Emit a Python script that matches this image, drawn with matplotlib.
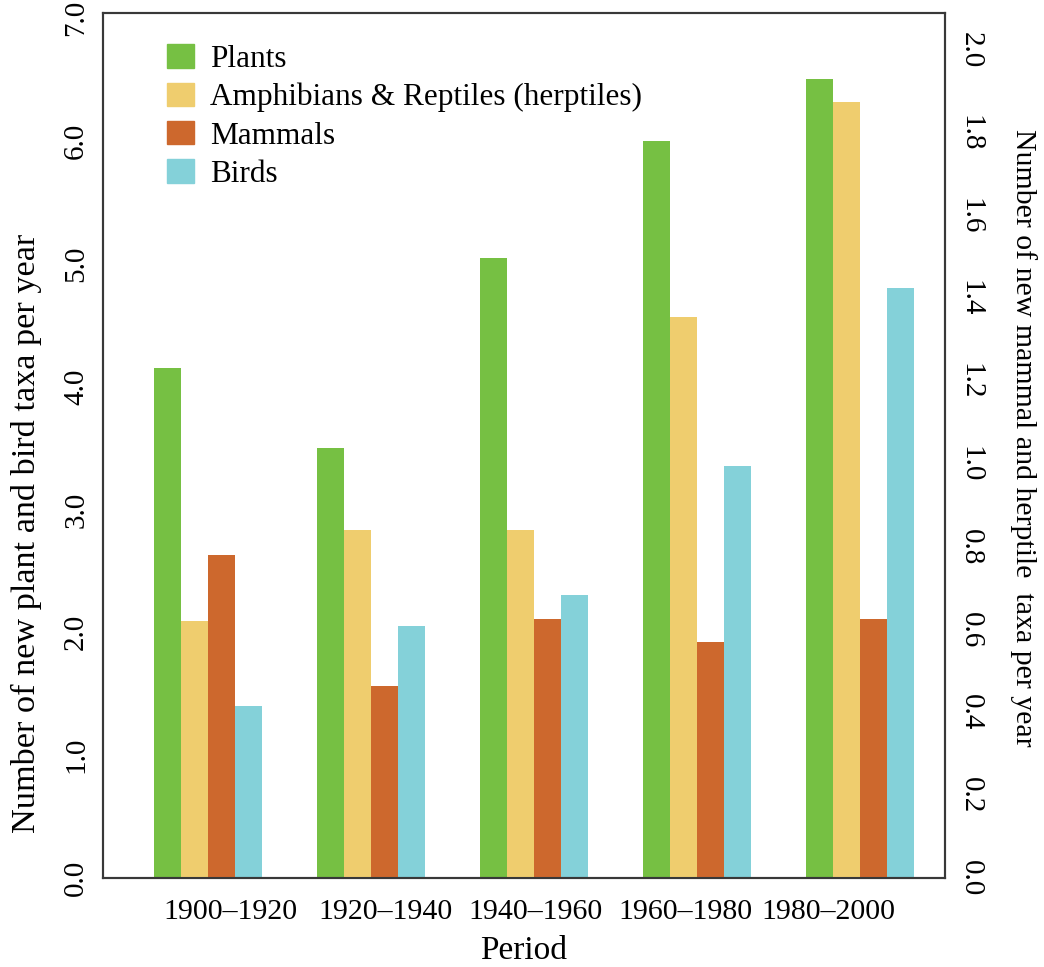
import numpy as np
import matplotlib
matplotlib.use('Agg')
import matplotlib.pyplot as plt
from matplotlib.patches import Patch

# new taxa described per year, by 20-year period
periods = ['1900–1920', '1920–1940', '1940–1960', '1960–1980', '1980–2000']
plants = [4.15, 3.5, 5.05, 6.0, 6.5]         # left axis
birds = [1.4, 2.05, 2.3, 3.35, 4.8]          # left axis
herptiles = [0.62, 0.84, 0.84, 1.355, 1.875]  # right axis
mammals = [0.78, 0.465, 0.625, 0.57, 0.625]    # right axis

left_ticks = [0.0, 1.0, 2.0, 3.0, 4.0, 5.0, 6.0, 7.0]
right_ticks = [0.0, 0.2, 0.4, 0.6, 0.8, 1.0, 1.2, 1.4, 1.6, 1.8, 2.0]

c_plants = '#76c043'
c_herp = '#efcd6e'
c_mammals = '#cd682d'
c_birds = '#84d1d9'

plt.rcParams['font.family'] = ['Liberation Serif', 'DejaVu Serif']

W, H = 1044, 967
fig = plt.figure(figsize=(W / 100, H / 100), dpi=100)
ax = fig.add_axes([103 / W, 89 / H, 842 / W, 865 / H])
ax2 = ax.twinx()

x = np.arange(len(periods))
w = 0.166

ax.bar(x - 1.5 * w, plants, w, color=c_plants, linewidth=0)
ax2.bar(x - 0.5 * w, herptiles, w, color=c_herp, linewidth=0)
ax2.bar(x + 0.5 * w, mammals, w, color=c_mammals, linewidth=0)
ax.bar(x + 1.5 * w, birds, w, color=c_birds, linewidth=0)

ax.set_xlim(-0.645, 4.524)
ax.set_ylim(0, 7.04)
ax2.set_ylim(0, 2.09)

# period labels sit a little off the group centres
ax.set_xticks([0.14, 1.09, 2.01, 2.93, 3.81])
ax.set_xticklabels(periods, fontsize=21.5)
ax.tick_params(axis='x', length=0, pad=15)
ax.set_xlabel('Period', fontsize=24, labelpad=7.5)

ax.set_yticks(left_ticks)
ax.set_yticklabels([f'{t:.1f}' for t in left_ticks], fontsize=21,
                   rotation=90, va='center')
ax.tick_params(axis='y', length=0, pad=10)

ax2.set_yticks(right_ticks)
ax2.set_yticklabels([f'{t:.1f}' for t in right_ticks], fontsize=21,
                    rotation=-90, va='center')
ax2.tick_params(axis='y', length=0, pad=9)

fig.text(26 / W, 1 - 833 / H, 'Number of new plant and bird taxa per year',
         fontsize=24.7, rotation=90, ha='center', va='bottom')
fig.text(1023 / W, 1 - 438 / H,
         'Number of new mammal and herptile  taxa per year',
         fontsize=21.5, rotation=-90, ha='center', va='center')

for a in (ax, ax2):
    for s in a.spines.values():
        s.set_linewidth(1.5)
        s.set_color('#383838')

handles = [Patch(color=c_plants), Patch(color=c_herp),
           Patch(color=c_mammals), Patch(color=c_birds)]
labels = ['Plants', 'Amphibians & Reptiles (herptiles)', 'Mammals', 'Birds']
ax2.legend(handles, labels, loc='upper left', bbox_to_anchor=(0.076, 0.9636),
           frameon=False, fontsize=22.5, borderpad=0, borderaxespad=0,
           handlelength=0.86, handleheight=0.77, handletextpad=0.51,
           labelspacing=0.28)

fig.savefig('out.png', dpi=100)
